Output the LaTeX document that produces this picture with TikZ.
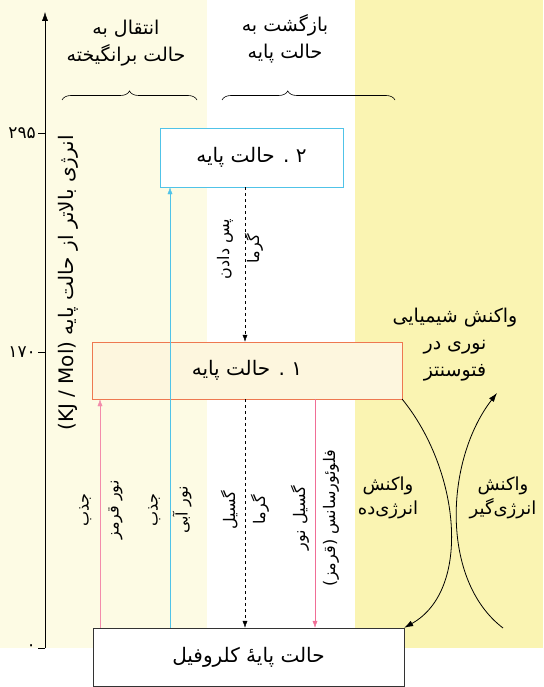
\documentclass[tikz,border=0pt]{standalone}
\usepackage{fontspec}
\setmainfont{DejaVu Sans}
\newfontfamily\fa[Script=Arabic]{DejaVu Sans}
\TeXXeTstate=1
\usetikzlibrary{positioning, arrows.meta, decorations.pathreplacing}
\definecolor{paleyellow}{RGB}{253,251,228}
\definecolor{sunyellow}{RGB}{250,244,178}
\definecolor{boxcream}{RGB}{253,246,222}
\definecolor{lineblue}{RGB}{80,195,232}
\definecolor{linepink}{RGB}{240,110,150}
\definecolor{boxorange}{RGB}{238,120,80}
\newcommand{\rtltext}[1]{\beginR #1\endR}
\tikzset{
  statebox/.style  = {draw, minimum height=58pt, align=center, font=\fa\fontsize{20}{24}\selectfont},
  arrowtext/.style = {rotate=90, align=center, font=\fa\fontsize{16}{30}\selectfont},
  headtext/.style  = {align=center, font=\fa\fontsize{19}{27}\selectfont},
  arrow/.style     = {-{Latex[length=7pt,width=5pt]}, thin},
  bracebar/.style  = {decorate, decoration={brace, amplitude=9pt}, semithick}
}
\begin{document}
\begin{tikzpicture}[x=1pt, y=-1pt]
  \useasboundingbox (0,0) rectangle (543,687);
  \fill[paleyellow] (0,0) rectangle (207,648);
  \fill[sunyellow] (355,0) rectangle (543,648);

  \coordinate (axisbottom) at (45,648);
  \coordinate (axistop) at (45,12);
  \draw[-{Latex[length=9pt,width=6pt]}] (axisbottom) -- (axistop);
  \foreach \y/\v in {133/۲۹۵, 352/۱۷۰, 648/۰} {
    \draw (38,\y) -- (45,\y);
    \node[anchor=east, inner sep=1pt, font=\fa\fontsize{17}{19}\selectfont] at (37,\y) {\v};
  }
  \node[rotate=90, font=\fa\fontsize{20}{23}\selectfont] (axislabel) at (68,283)
    {\rtltext{انرژی بالاتر از حالت پایه {\rmfamily\beginL(KJ / Mol)\endL}}};

  \node[headtext] (uphead) at (126,43) {\rtltext{انتقال به}\\\rtltext{حالت برانگیخته}};
  \node[headtext] (downhead) at (285,39) {\rtltext{بازگشت به}\\\rtltext{حالت پایه}};
  \draw[bracebar] (62,100) -- (197,100);
  \draw[bracebar, decoration={aspect=0.38}] (222,100) -- (395,100);

  \node[statebox, draw=lineblue, fill=white, minimum width=183pt, minimum height=59pt] (level2) at (251.5,157.5) {\rtltext{۲ . حالت پایه}};
  \node[statebox, draw=boxorange, fill=boxcream, minimum width=310pt, minimum height=57pt] (level1) at (247,370.5) {\rtltext{۱ . حالت پایه}};
  \node[statebox, draw=black!80, fill=white, minimum width=311pt] (ground) at (248.5,657) {\rtltext{حالت پایهٔ کلروفیل}};

  \draw[arrow, linepink!80] (ground.north -| 100,0) -- (level1.south -| 100,0);
  \draw[arrow, lineblue] (ground.north -| 170,0) -- (level2.south -| 170,0);
  \draw[arrow, dashed] (level2.south -| 245,0) -- (level1.north -| 245,0);
  \draw[arrow, dashed] (level1.south -| 245,0) -- (ground.north -| 245,0);
  \draw[arrow, linepink] (level1.south -| 315,0) -- (ground.north -| 315,0);

  \node[arrowtext] (redabs) at (101,510) {\rtltext{جذب}\\\rtltext{نور قرمز}};
  \node[arrowtext] (blueabs) at (170,510) {\rtltext{جذب}\\\rtltext{نور آبی}};
  \node[arrowtext] (heatback) at (240,249) {\rtltext{پس دادن}\\\rtltext{گرما}};
  \node[arrowtext] (heatemit) at (245,510) {\rtltext{گسیل}\\\rtltext{گرما}};
  \node[arrowtext] (fluor) at (315,518) {\rtltext{گسیل نور}\\\rtltext{فلوئورسانس (قرمز)}};

  \node[headtext] (photo) at (455,345) {\rtltext{واکنش شیمیایی}\\\rtltext{نوری در}\\\rtltext{فتوسنتز}};
  \node[headtext, font=\fa\fontsize{18}{24}\selectfont] (exo) at (388,498) {\rtltext{واکنش}\\\rtltext{انرژی‌ده}};
  \node[headtext, font=\fa\fontsize{18}{24}\selectfont] (endo) at (503,498) {\rtltext{واکنش}\\\rtltext{انرژی‌گیر}};

  \coordinate (endostart) at (503,628);
  \coordinate (endoend) at (497,393);
  \draw[-{Latex[length=9pt,width=6pt]}, thick] (level1.south east) .. controls (460,470) and (472,590) .. (ground.north east);
  \draw[-{Latex[length=9pt,width=6pt]}, thick] (endostart) .. controls (440,580) and (445,460) .. (endoend);
\end{tikzpicture}
\end{document}
